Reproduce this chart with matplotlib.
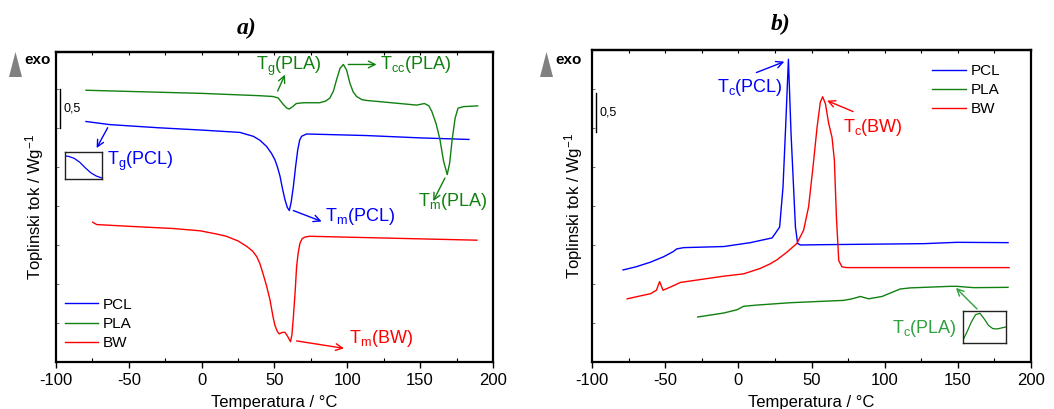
import matplotlib
matplotlib.use("Agg")
import matplotlib.pyplot as plt
import numpy as np
from matplotlib.patches import Polygon

plt.rcParams["font.family"] = ["Liberation Sans", "DejaVu Sans"]
plt.rcParams["mathtext.default"] = "regular"
plt.rcParams["axes.unicode_minus"] = False

# ---- panel a) heating curves ----
a_pcl_t = [-79.4, -63, -30, 0, 26.3, 35.5, 40, 44.6, 48, 50.3, 52, 53.8, 55.5, 57.2, 58.8, 60.2,
           61.5, 63, 64.5, 66, 67.3, 68.6, 72, 113, 150, 183.5]
a_pcl_y = [3.08, 3.04, 3.00, 2.97, 2.94, 2.89, 2.84, 2.76, 2.67, 2.59, 2.50, 2.38, 2.22, 2.08, 1.98, 1.94,
           2.05, 2.25, 2.50, 2.72, 2.84, 2.89, 2.92, 2.90, 2.87, 2.85]

a_pla_t = [-79.4, -40, 0, 40, 49, 52.6, 56, 58.5, 60.2, 62.5, 65, 70, 81, 85, 88, 90.5, 92.7, 95,
           97.3, 99.5, 101.8, 104, 106.4, 110, 113, 147.6, 153, 156, 158, 161, 163.6, 166, 168.6,
           170.3, 172, 174, 176, 179.6, 189.5]
a_pla_y = [3.48, 3.46, 3.44, 3.41, 3.40, 3.38, 3.30, 3.25, 3.24, 3.27, 3.31, 3.32, 3.32, 3.34, 3.38,
           3.47, 3.62, 3.76, 3.81, 3.74, 3.57, 3.46, 3.40, 3.36, 3.35, 3.29, 3.31, 3.28, 3.21, 3.05,
           2.85, 2.58, 2.40, 2.55, 2.85, 3.12, 3.25, 3.27, 3.28]

a_bw_t = [-74.8, -72, -47, -20, -1, 10, 17, 25, 31, 35, 37.8, 40, 42, 44.5, 47, 49, 50.3, 52, 53.3,
          55.5, 57.2, 59, 61, 62, 63, 64.2, 65.2, 66.3, 67.5, 69, 71, 74, 120, 189]
a_bw_y = [1.79, 1.76, 1.735, 1.71, 1.68, 1.64, 1.61, 1.55, 1.48, 1.42, 1.35, 1.26, 1.14, 0.98, 0.79,
          0.58, 0.47, 0.39, 0.36, 0.38, 0.38, 0.33, 0.26, 0.35, 0.58, 0.90, 1.22, 1.40, 1.52, 1.58,
          1.60, 1.61, 1.59, 1.56]

# ---- panel b) cooling curves ----
b_pcl_t = [-78.8, -70, -60, -51, -45, -42, -37.4, -10, 8.2, 18, 23, 25.3, 28.2, 30.5, 32.3, 34.2,
           36, 39, 40.5, 42.4, 58.3, 126.7, 149.4, 184.3]
b_pcl_y = [1.18, 1.22, 1.28, 1.35, 1.41, 1.45, 1.466, 1.48, 1.53, 1.57, 1.59, 1.65, 1.73, 2.24, 3.01,
           3.88, 2.93, 1.73, 1.52, 1.50, 1.504, 1.517, 1.534, 1.53]

b_bw_t = [-76, -60, -56, -53.8, -51.5, -46.5, -39.6, -10, 3.6, 15, 21.9, 26.4, 33.3, 40, 44.6, 48,
          51, 53.8, 56, 57.6, 59.5, 61.7, 64, 65.6, 67, 68.6, 70.8, 74, 185]
b_bw_y = [0.81, 0.876, 0.92, 1.03, 0.92, 0.96, 1.02, 1.10, 1.13, 1.20, 1.26, 1.31, 1.41, 1.52, 1.69,
          1.99, 2.50, 3.01, 3.33, 3.40, 3.31, 3.06, 2.88, 2.59, 1.86, 1.30, 1.22, 1.21, 1.21]

b_pla_t = [-27.8, -10, -0.9, 3.6, 12.8, 35.5, 72, 77.7, 83.4, 89, 98.2, 104, 110.6, 117.5, 144.9,
           149.4, 160.8, 184.3]
b_pla_y = [0.577, 0.628, 0.67, 0.714, 0.73, 0.76, 0.79, 0.81, 0.84, 0.81, 0.84, 0.885, 0.936, 0.95,
           0.97, 0.97, 0.953, 0.957]

# inset sketches (normalised box coordinates)
inset_a_x = [0, 0.1, 0.25, 0.4, 0.55, 0.7, 0.85, 1.0]
inset_a_y = [0.85, 0.83, 0.76, 0.62, 0.42, 0.24, 0.12, 0.05]
inset_b_x = [0, 0.1, 0.2, 0.3, 0.4, 0.5, 0.6, 0.7, 0.8, 0.9, 1.0]
inset_b_y = [0.08, 0.35, 0.65, 0.88, 0.92, 0.75, 0.55, 0.45, 0.44, 0.47, 0.5]

BLUE = "#0000ff"
GREEN = "#108010"
RED = "#ff0000"
ANN = 13


def style_axes(ax, ymax):
    ax.set_xlim(-100, 200)
    ax.set_ylim(0, ymax)
    ax.set_xticks(np.arange(-100, 201, 50))
    ax.set_xticks(np.arange(-75, 200, 50), minor=True)
    ax.set_yticks(np.arange(0.5, ymax, 0.5))
    ax.tick_params(axis="x", which="major", direction="out", length=4, width=1,
                   labelsize=12, pad=4)
    ax.tick_params(axis="x", which="minor", direction="in", length=3, width=0.8)
    ax.tick_params(axis="y", direction="in", length=2, width=0.6, labelleft=False,
                   color="#555555")
    for s in ax.spines.values():
        s.set_linewidth(1.6)
    top = ax.secondary_xaxis("top")
    top.set_xticks(np.arange(-100, 201, 25))
    top.tick_params(direction="in", length=2.5, width=0.8, labeltop=False)
    top.spines["top"].set_linewidth(1.6)
    ax.set_xlabel("Temperatura / °C", fontsize=12)
    ax.set_ylabel("Toplinski tok / Wg$^{-1}$", fontsize=12)


def arrow(ax, tail, head, color):
    ax.annotate("", xy=head, xytext=tail,
                arrowprops=dict(arrowstyle="->", color=color, lw=1.0,
                                shrinkA=0, shrinkB=0, mutation_scale=12))


def exo(fig, x0):
    W, H = 1054.0, 409.0
    tri = Polygon([(x0 / W, 1 - 77 / H), ((x0 + 13) / W, 1 - 77 / H),
                   ((x0 + 6.5) / W, 1 - 52 / H)], closed=True,
                  transform=fig.transFigure, color="#808080", lw=0)
    fig.patches.append(tri)
    fig.text((x0 + 15) / W, 1 - 60 / H, "exo", fontsize=11, fontweight="bold",
             va="center", ha="left")


fig = plt.figure(figsize=(10.54, 4.09), dpi=100)
ax_a = fig.add_axes([0.0531, 0.1149, 0.4146, 0.758])
ax_b = fig.add_axes([0.5617, 0.1149, 0.4165, 0.763])

# panel a
ax_a.plot(a_pcl_t, a_pcl_y, color=BLUE, lw=1.0, label="PCL")
ax_a.plot(a_pla_t, a_pla_y, color=GREEN, lw=1.0, label="PLA")
ax_a.plot(a_bw_t, a_bw_y, color=RED, lw=1.0, label="BW")
style_axes(ax_a, 3.97)
ax_a.xaxis.set_label_coords(0.5, -0.105)
ax_a.yaxis.set_label_coords(-0.022, 0.5)
ax_a.legend(loc="upper left", bbox_to_anchor=(0.02, 0.207), frameon=False, fontsize=11,
            handlelength=2.2, handletextpad=0.3, labelspacing=0.33, borderpad=0,
            borderaxespad=0)

ax_a.plot([-97, -97], [3.0, 3.5], color="black", lw=1.0)
ax_a.text(-95, 3.25, "0,5", fontsize=9, va="center", ha="left")

ax_a.text(37.3, 3.79, "T$_{g}$(PLA)", color=GREEN, fontsize=ANN, va="center")
arrow(ax_a, (52.2, 3.47), (57.2, 3.68), GREEN)
ax_a.text(122.4, 3.81, "T$_{cc}$(PLA)", color=GREEN, fontsize=ANN, va="center")
arrow(ax_a, (100.7, 3.81), (120.1, 3.81), GREEN)
ax_a.text(148.7, 2.06, "T$_{m}$(PLA)", color=GREEN, fontsize=ANN, va="center")
arrow(ax_a, (167, 2.355), (159, 2.06), GREEN)
ax_a.text(84.7, 1.86, "T$_{m}$(PCL)", color=BLUE, fontsize=ANN, va="center")
arrow(ax_a, (62.9, 1.94), (82.4, 1.80), BLUE)
ax_a.text(101.4, 0.30, "T$_{m}$(BW)", color=RED, fontsize=ANN, va="center")
arrow(ax_a, (65.2, 0.27), (97.7, 0.175), RED)
ax_a.text(-65.2, 2.57, "T$_{g}$(PCL)", color=BLUE, fontsize=ANN, va="center")
arrow(ax_a, (-64.5, 3.0), (-72.1, 2.74), BLUE)

ins_a = fig.add_axes([65 / 1054, 1 - 179.3 / 409, 36.7 / 1054, 27.6 / 409])
ins_a.plot(inset_a_x, inset_a_y, color=BLUE, lw=0.9)
ins_a.set_xlim(0, 1)
ins_a.set_ylim(0, 1)
ins_a.set_xticks([])
ins_a.set_yticks([])
for s in ins_a.spines.values():
    s.set_linewidth(1.0)
    s.set_color("#222222")

# panel b
ax_b.plot(b_pcl_t, b_pcl_y, color=BLUE, lw=1.0, label="PCL")
ax_b.plot(b_pla_t, b_pla_y, color=GREEN, lw=1.0, label="PLA")
ax_b.plot(b_bw_t, b_bw_y, color=RED, lw=1.0, label="BW")
style_axes(ax_b, 4.0)
ax_b.xaxis.set_label_coords(0.5, -0.105)
ax_b.yaxis.set_label_coords(-0.015, 0.5)
ax_b.legend(loc="upper left", bbox_to_anchor=(0.775, 0.955), frameon=False, fontsize=11,
            handlelength=2.2, handletextpad=0.3, labelspacing=0.33, borderpad=0,
            borderaxespad=0)

ax_b.plot([-97, -97], [2.95, 3.45], color="black", lw=1.0)
ax_b.text(-94.8, 3.2, "0,5", fontsize=9, va="center", ha="left")

ax_b.text(-14.6, 3.52, "T$_{c}$(PCL)", color=BLUE, fontsize=ANN, va="center")
arrow(ax_b, (12.3, 3.71), (31.4, 3.85), BLUE)
ax_b.text(71.5, 3.01, "T$_{c}$(BW)", color=RED, fontsize=ANN, va="center")
arrow(ax_b, (78.4, 3.21), (60.6, 3.35), RED)
ax_b.text(105, 0.43, "T$_{c}$(PLA)", color="#30a040", fontsize=ANN, va="center")
arrow(ax_b, (163.1, 0.68), (148.7, 0.95), "#30a040")

ins_b = fig.add_axes([962.7 / 1054, 1 - 343.3 / 409, 43 / 1054, 32.6 / 409])
ins_b.plot(inset_b_x, inset_b_y, color=GREEN, lw=0.9)
ins_b.set_xlim(0, 1)
ins_b.set_ylim(0, 1)
ins_b.set_xticks([])
ins_b.set_yticks([])
for s in ins_b.spines.values():
    s.set_linewidth(1.0)
    s.set_color("#222222")

exo(fig, 9)
exo(fig, 540)

title_font = dict(family=["Liberation Serif", "DejaVu Serif"], fontsize=17,
                  fontweight="bold", fontstyle="italic", ha="center", va="center")
fig.text(247 / 1054, 1 - 28 / 409, "a)", **title_font)
fig.text(781 / 1054, 1 - 24 / 409, "b)", **title_font)

fig.savefig("out.png", dpi=100)
